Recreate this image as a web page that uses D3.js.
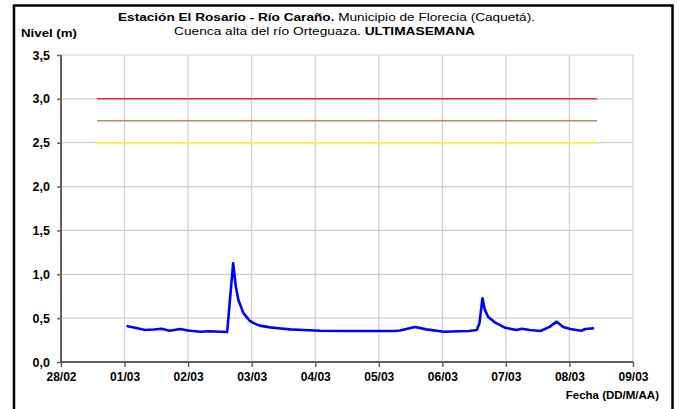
<!DOCTYPE html>
<html><head><meta charset="utf-8">
<script src="https://cdn.jsdelivr.net/npm/d3@7"></script>
<style>
body{margin:0;background:#fff;}
text{font-family:"Liberation Sans",Arial,sans-serif;}
</style></head>
<body><svg id="c" width="679" height="409"></svg>
<script>
const times = ["2014-03-01T00:45","2014-03-01T04:00","2014-03-01T07:45","2014-03-01T11:00","2014-03-01T14:00","2014-03-01T17:00","2014-03-01T21:00",
"2014-03-02T00:00","2014-03-02T04:30","2014-03-02T08:00","2014-03-02T12:00","2014-03-02T14:45","2014-03-02T17:00","2014-03-02T18:00","2014-03-02T19:00","2014-03-02T20:50","2014-03-02T23:15",
"2014-03-03T01:00","2014-03-03T03:00","2014-03-03T07:00","2014-03-03T10:00","2014-03-03T14:30","2014-03-03T19:30","2014-03-04T02:00","2014-03-04T12:00","2014-03-05T00:00","2014-03-05T06:00","2014-03-05T08:00",
"2014-03-05T13:40","2014-03-05T18:00","2014-03-06T00:30","2014-03-06T10:00","2014-03-06T13:00","2014-03-06T14:00","2014-03-06T15:10","2014-03-06T16:00","2014-03-06T17:15","2014-03-06T20:00",
"2014-03-06T23:45","2014-03-07T04:00","2014-03-07T06:00","2014-03-07T09:00","2014-03-07T13:00","2014-03-07T16:30","2014-03-07T19:10","2014-03-07T21:40","2014-03-08T00:15",
"2014-03-08T04:30","2014-03-08T06:00","2014-03-08T09:20"];
const levels = [0.41,0.39,0.365,0.37,0.38,0.357,0.376,
0.36,0.345,0.35,0.345,0.342,1.125,0.86,0.707,0.56,0.47,
0.44,0.415,0.395,0.385,0.372,0.365,0.357,0.353,0.353,0.353,0.36,
0.40,0.372,0.345,0.353,0.365,0.44,0.726,0.6,0.517,0.448,
0.39,0.365,0.38,0.365,0.353,0.40,0.46,0.40,0.376,
0.357,0.376,0.384];
const thresholdValues = [3.0, 2.75, 2.5];
const thresholdColors = ["#e0302c", "#b98a5e", "#f5f50a"];
const thresholdStart = "2014-02-28T13:35";
const thresholdEnd = "2014-03-08T10:25";
const xDomain = ["2014-02-28T00:00","2014-03-09T00:00"];
const yTicks = [0,0.5,1.0,1.5,2.0,2.5,3.0,3.5];

const parse = d3.isoParse;
const svg = d3.select("#c");
const L=61, R=633, T=55, B=362;
const x = d3.scaleTime().domain(xDomain.map(parse)).range([L,R]);
const y = d3.scaleLinear().domain([0,3.5]).range([B,T]);
const days = d3.timeDay.range(parse(xDomain[0]), d3.timeDay.offset(parse(xDomain[1]),1));

// frame
svg.append("rect").attr("x",14).attr("y",5.5).attr("width",658.5).attr("height",410)
  .attr("fill","none").attr("stroke","#000").attr("stroke-width",2.5);

// grid
const g = svg.append("g");
g.selectAll(".vg").data(days).join("line").attr("x1",d=>x(d)).attr("x2",d=>x(d))
  .attr("y1",T).attr("y2",B).attr("stroke","#d0d0d0").attr("stroke-width",1.2);
g.selectAll(".hg").data(yTicks).join("line").attr("x1",L).attr("x2",R)
  .attr("y1",d=>y(d)).attr("y2",d=>y(d)).attr("stroke","#d0d0d0").attr("stroke-width",1.2);

// thresholds
svg.selectAll(".th").data(thresholdValues).join("line")
  .attr("x1",x(parse(thresholdStart))).attr("x2",x(parse(thresholdEnd)))
  .attr("y1",d=>y(d)).attr("y2",d=>y(d))
  .attr("stroke",(d,i)=>thresholdColors[i]).attr("stroke-width",1.5);

// axes
const yAxis = d3.axisLeft(y).tickValues(yTicks).tickSize(4).tickFormat(d=>d3.format(".1f")(d).replace(".",","));
const xAxis = d3.axisBottom(x).tickValues(days).tickSize(5).tickFormat(d3.timeFormat("%d/%m"));
const ya = svg.append("g").attr("transform",`translate(${L},0)`).call(yAxis);
const xa = svg.append("g").attr("transform",`translate(0,${B})`).call(xAxis);
[ya,xa].forEach(a=>{
  a.select(".domain").attr("stroke","#606060").attr("stroke-width",2);
  a.selectAll(".tick line").attr("stroke","#606060").attr("stroke-width",1.5);
  a.selectAll("text").attr("font-family","Liberation Sans, Arial").attr("font-weight","bold").attr("font-size",12).attr("fill","#000");
});
ya.selectAll("text").attr("font-size",12.5);
ya.select(".domain").attr("d",`M0,${T}V${B}`);
xa.select(".domain").attr("d",`M${L},0H${R}`);
ya.selectAll("text").attr("x",-11);
xa.selectAll("text").attr("dy","0").attr("y",19);

// line
const line = d3.line().x((d,i)=>x(parse(times[i]))).y(d=>y(d));
svg.append("path").datum(levels).attr("d",line).attr("fill","none")
  .attr("stroke","#0000ff").attr("stroke-width",2.6).attr("stroke-linejoin","round");

// titles
const t1 = svg.append("text").attr("x",118).attr("y",21).attr("font-size",11.5)
  .attr("textLength",417).attr("lengthAdjust","spacingAndGlyphs");
t1.append("tspan").attr("font-weight","bold").text("Estación El Rosario - Río Caraño.");
t1.append("tspan").text(" Municipio de Florecia (Caquetá).");
const t2 = svg.append("text").attr("x",174).attr("y",35).attr("font-size",11.5)
  .attr("textLength",301).attr("lengthAdjust","spacingAndGlyphs");
t2.append("tspan").text("Cuenca alta del río Orteguaza. ");
t2.append("tspan").attr("font-weight","bold").text("ULTIMASEMANA");
svg.append("text").attr("x",21).attr("y",37).attr("font-size",11.5).attr("font-weight","bold")
  .attr("textLength",56).attr("lengthAdjust","spacingAndGlyphs").text("Nivel (m)");
svg.append("text").attr("x",659).attr("y",399).attr("text-anchor","end").attr("font-size",11.5).attr("font-weight","bold").text("Fecha (DD/M/AA)");
</script></body></html>
